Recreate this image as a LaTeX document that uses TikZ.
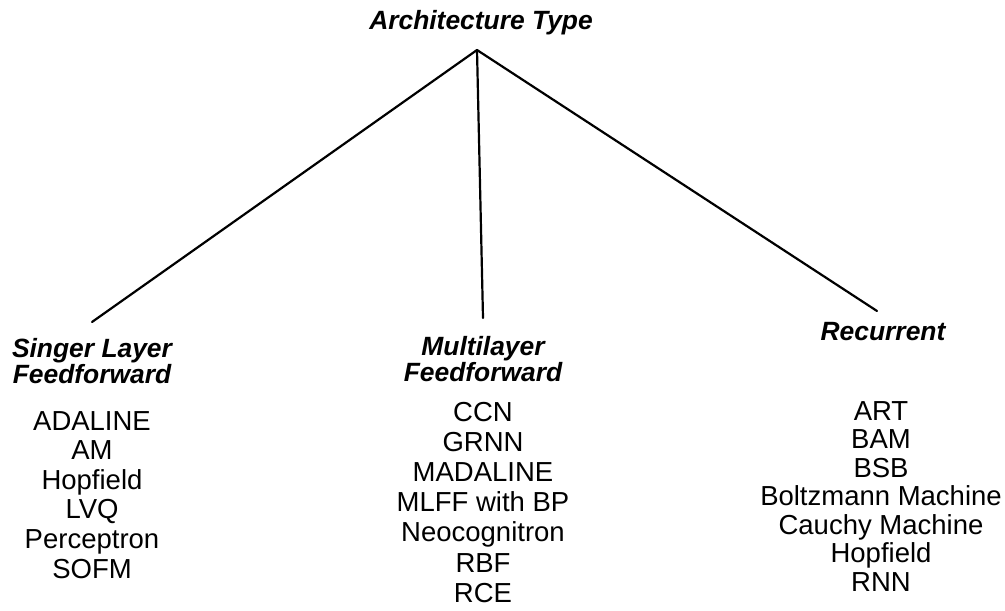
\documentclass[tikz,border=0pt]{standalone}
\usepackage{fontspec}
\setmainfont{Liberation Sans}
\begin{document}
\begin{tikzpicture}[x=0.5pt,y=-0.5pt,
  every node/.style={inner sep=0pt, outer sep=0pt},
  head/.style={font=\fontsize{13.2}{11.5}\selectfont\bfseries\itshape, align=center},
  item/.style={font=\fontsize{13.75}{15}\selectfont, anchor=base},
  conn/.style={line width=1.1pt, line cap=round}]
\useasboundingbox (0,0) rectangle (1005,610);
% title and branch point
\node[head, anchor=base] (title) at (481,30) {Architecture Type};
\coordinate (apex) at (477,50);
% category labels
\node[head, anchor=north] (sl) at (92,338) {Singer Layer\\Feedforward};
\node[head, anchor=north] (ml) at (483,336) {Multilayer\\Feedforward};
\node[head, anchor=north] (rc) at (883,322) {Recurrent};
% connector ends
\coordinate (endL) at (92,322);
\coordinate (endM) at (483,318);
\coordinate (endR) at (877,311);
\draw[conn] (apex) -- (endL);
\draw[conn] (apex) -- (endM);
\draw[conn] (apex) -- (endR);
% member lists
\foreach \t [count=\i] in {ADALINE, AM, Hopfield, LVQ, Perceptron, SOFM}
  \node[item] (l\i) at (92, 430+29.6*\i-29.6) {\t};
\foreach \t [count=\i] in {CCN, GRNN, MADALINE, MLFF with BP, Neocognitron, RBF, RCE}
  \node[item] (m\i) at (483, 421+30.2*\i-30.2) {\t};
\foreach \t [count=\i] in {ART, BAM, BSB, Boltzmann Machine, Cauchy Machine, Hopfield, RNN}
  \node[item] (r\i) at (881, 420+28.5*\i-28.5) {\t};
\end{tikzpicture}
\end{document}
